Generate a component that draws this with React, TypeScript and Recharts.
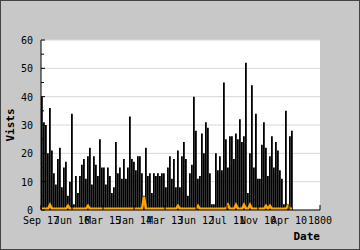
import React from 'react'
import {
  Bar,
  CartesianGrid,
  ComposedChart,
  Line,
  XAxis,
  YAxis,
} from 'recharts'

// daily visits (black bars)
const visits = [
  40, 31, 30, 20, 36, 21, 13, 9, 18, 22, 8, 15, 17, 5, 10, 34, 2, 12, 6, 12, 16, 18, 11, 19, 22, 9, 19, 16, 12, 25, 15,
  15, 9, 15, 12, 6, 8, 24, 13, 15, 11, 18, 11, 15, 33, 18, 17, 14, 19, 19, 13, 5, 22, 12, 13, 6, 13, 12, 13, 12, 13, 13,
  8, 15, 19, 11, 18, 8, 21, 8, 19, 24, 18, 5, 13, 16, 40, 28, 11, 12, 27, 20, 31, 29, 13, 2, 2, 20, 14, 19, 14, 45, 25,
  15, 26, 26, 18, 27, 25, 32, 24, 26, 52, 6, 20, 44, 15, 34, 11, 11, 23, 31, 22, 12, 19, 26, 15, 24, 21, 14, 11, 2, 35, 2, 26, 28,
]

// second series (orange line near the floor)
const other = [
  0.4, 0.4, 0.4, 0.4, 1.8, 0.4, 0.4, 0.4, 0.4, 0.4,
  0.4, 0.4, 0.4, 1.5, 0.4, 0.4, 0.4, 0.4, 0.4, 0.4,
  0.4, 0.4, 0.4, 1.5, 0.4, 0.4, 0.4, 0.4, 0.4, 0.4,
  0.4, 0.4, 0.4, 0.4, 0.4, 0.4, 0.4, 0.4, 0.4, 0.4,
  0.4, 0.4, 0.4, 0.4, 0.4, 0.4, 0.4, 0.4, 0.4, 0.4,
  0.4, 4.7, 0.4, 0.4, 0.4, 0.4, 0.4, 0.4, 0.4, 0.4,
  0.4, 0.4, 0.4, 0.4, 0.4, 0.4, 0.4, 0.4, 1.5, 0.4,
  0.4, 0.4, 0.4, 0.4, 0.4, 0.4, 0.4, 0.4, 1.5, 0.4,
  0.4, 0.4, 0.4, 0.4, 0.4, 0.4, 0.4, 0.4, 0.4, 0.4,
  0.4, 0.4, 0.4, 1.8, 0.4, 0.4, 0.4, 1.8, 0.4, 0.4,
  0.4, 1.8, 0.4, 0.4, 1.8, 0.4, 0.4, 0.4, 0.4, 0.4,
  0.4, 0.4, 1.5, 0.4, 1.5, 0.4, 0.4, 0.4, 0.4, 0.4,
  0.4, 0.4, 0.4, 1.5, 0.4, 0.4,
]

const xTickLabels = ['Sep 17', 'Jun 16', 'Mar 15', 'Jan 14', 'Mar 13', 'Jun 12', 'Jul 11', 'Nov 10', 'Apr 10', '1800']
const xTicks = [-0.5, 15, 30.5, 46, 61.5, 77, 92.5, 108, 123.5, 139]
const yTicks = [0, 5, 10, 15, 20, 25, 30, 35, 40, 45, 50, 55, 60]
const gridValues = [10, 20, 30, 40, 50, 60]

const data = visits.map((v, i) => ({ i, v, o: other[i] }))

const font = '"DejaVu Sans Mono", monospace'

const XTick = (props: any) => {
  const { x, y, payload } = props
  const idx = xTicks.indexOf(payload.value)
  return (
    <g>
      <line x1={x} x2={x} y1={y} y2={y - 5} stroke="#000" />
      <text x={x} y={y + 14} textAnchor="middle" fontFamily={font} fontSize={10} fill="#000">
        {xTickLabels[idx]}
      </text>
    </g>
  )
}

const YTick = (props: any) => {
  const { x, y, payload } = props
  const major = payload.value % 10 === 0
  return (
    <g>
      <line x1={x} x2={x + (major ? 4 : 3)} y1={y} y2={y} stroke="#000" />
      {major && (
        <text x={x - 8} y={y + 4} textAnchor="end" fontFamily={font} fontSize={10} fill="#000">
          {payload.value}
        </text>
      )}
    </g>
  )
}

export default function App() {
  return (
    <div style={{ position: 'absolute', left: 0, top: 0, width: 360, height: 250, background: '#c8c8c8' }}>
      <ComposedChart width={360} height={250} data={data} margin={{ top: 40, right: 40, bottom: 0, left: 0 }}>
        <CartesianGrid vertical={false} horizontalValues={gridValues} stroke="#d8d8d8" fill="#ffffff" fillOpacity={1} />
        <XAxis
          dataKey="i"
          type="number"
          domain={[-0.5, 139]}
          ticks={xTicks}
          interval={0}
          height={40}
          tickSize={0}
          tickMargin={0}
          tickLine={false}
          axisLine={{ stroke: '#000' }}
          tick={<XTick />}
        />
        <YAxis
          type="number"
          domain={[0, 60]}
          ticks={yTicks}
          interval={0}
          width={41}
          tickSize={0}
          tickMargin={0}
          tickLine={false}
          axisLine={{ stroke: '#000' }}
          tick={<YTick />}
        />
        <Bar dataKey="v" fill="#000" barSize={2} isAnimationActive={false} />
        <Line dataKey="o" stroke="#ffa500" strokeWidth={2.5} dot={false} type="linear" isAnimationActive={false} />
      </ComposedChart>
      <svg width={360} height={250} style={{ position: 'absolute', left: 0, top: 0, pointerEvents: 'none' }}>
        <rect x={0.5} y={0.5} width={359} height={249} fill="none" stroke="#444" />
        <text
          x={14}
          y={125}
          transform="rotate(-90 14 125)"
          textAnchor="middle"
          fontFamily={font}
          fontSize={11}
          fontWeight="bold"
          fill="#000"
        >
          Vists
        </text>
        <text x={320} y={240} textAnchor="end" fontFamily={font} fontSize={11} fontWeight="bold" fill="#000">
          Date
        </text>
      </svg>
    </div>
  )
}
